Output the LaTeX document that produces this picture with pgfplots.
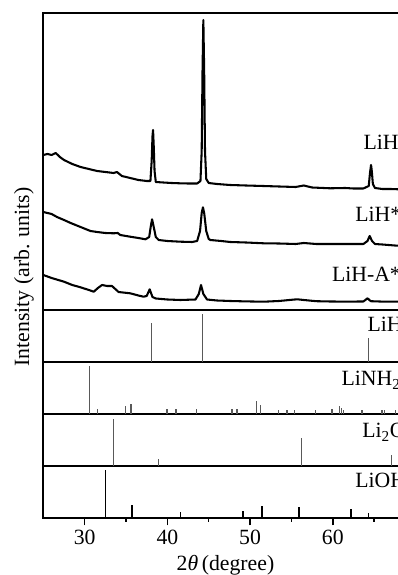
\documentclass[border=0pt]{standalone}
\usepackage{fontspec}
\setmainfont{Liberation Serif}
\usepackage{pgfplots}
\pgfplotsset{compat=1.18}
\pgfplotsset{
  panel/.style={scale only axis, width=279.1pt, height=39pt, xmin=25, xmax=70, ymin=0, ymax=52,
    axis line style={line width=1.5pt}, xtick=\empty, ytick=\empty, anchor=south west},
  refbar/.style={ycomb, mark=none, line width=0.85pt, color=black!65},
  trace/.style={mark=none, line width=1.55pt, black, line join=round},
}
\newcommand{\lbl}{\fontsize{16.3}{19}\selectfont}
\begin{document}
\begin{tikzpicture}
% LiOH
\begin{axis}[panel, at={(32.5pt,42.75pt)}, xtick={30,40,50,60,70}, minor x tick num=1,
  xtick pos=bottom, tick align=outside, major tick length=5.5pt, minor tick length=3pt,
  tick style={line width=1.1pt, black},
  xticklabel style={font=\lbl}, /pgf/number format/assume math mode=true]
\addplot[refbar, black] coordinates {(32.5,48) (35.73,13) (41.57,5.7) (49.15,7.3) (51.45,11.7) (55.92,10.7) (62.21,9) (64.27,4.7)};
\end{axis}
% Li2O
\begin{axis}[panel, at={(32.5pt,81.75pt)}]
\addplot[refbar] coordinates {(33.5,47) (38.95,6.7) (56.17,28) (67.05,11)};
\end{axis}
% LiNH2
\begin{axis}[panel, at={(32.5pt,120.75pt)}]
\addplot[refbar] coordinates {(30.57,48) (31.6,5) (34.92,7.6) (35.6,10) (39.96,5) (41.05,5) (43.47,5) (47.82,5) (48.42,5) (50.76,13.3) (51.24,9) (53.46,4) (54.47,4) (55.4,4) (57.9,4) (59.91,5) (60.83,8) (61.04,6) (61.32,4) (63.54,4) (65.96,4) (66.24,4) (67.57,4)};
\end{axis}
% LiH
\begin{axis}[panel, at={(32.5pt,159.75pt)}]
\addplot[refbar] coordinates {(38.07,39) (44.23,48) (64.34,24)};
\end{axis}
% Measured patterns
\begin{axis}[panel, at={(32.5pt,198.75pt)}, height=222.75pt, ymin=1, ymax=298]
\addplot[trace] coordinates {(25.0,156) (25.5,157) (26.0,156) (26.5,158) (27.0,154) (27.5,151) (28.5,147) (29.5,144) (30.5,142) (31.5,140) (32.5,139) (33.5,138) (33.9,139) (34.5,135) (35.5,133) (36.5,131) (37.5,130) (37.95,130) (38.1,150) (38.2,175) (38.27,181) (38.35,165) (38.45,140) (38.6,129) (39.5,128.5) (40.5,128) (41.5,127.7) (42.5,127.5) (43.6,127.5) (44.0,130) (44.15,160) (44.25,240) (44.35,291) (44.45,240) (44.55,160) (44.7,132) (45.0,128) (46,127) (47.6,126) (49.5,125.5) (51.6,125) (53.5,124.5) (55.5,124) (56.5,125.5) (57.5,123.5) (59.7,122.7) (61.5,123) (62.5,122.5) (63.7,122.5) (64.35,125) (64.5,138) (64.63,146) (64.72,140) (64.85,127) (65.1,123) (66,122) (67,122) (68,121.7) (70,121.5)};
\addplot[trace] coordinates {(25,99) (25.5,98) (26,97) (26.65,94) (27.5,91) (28.3,88) (29.5,84) (30.7,80) (31.5,79) (32.5,78) (33.5,77.7) (34.0,78) (34.3,76) (35.5,74.3) (36.5,73) (37.35,71.7) (37.8,74) (38.0,85) (38.15,91.7) (38.35,84) (38.6,74) (38.95,71) (40,70) (41.57,69.3) (43.0,69) (43.6,70) (43.95,80) (44.15,98) (44.3,103.7) (44.45,98) (44.7,80) (45.0,72) (45.2,71) (46.5,70) (47.6,69) (49.5,68.5) (51.65,67.7) (53.5,67.5) (55.5,67) (56.5,68) (58,67) (59.7,67) (61.5,67) (63.7,67) (64.2,70) (64.46,75) (64.75,70) (65.1,67) (66,66.5) (67.8,65.3) (70,65)};
\addplot[trace] coordinates {(25,36) (26,33) (27.5,29.3) (28.5,26) (29.5,23.7) (30.5,21) (31.1,19.3) (31.6,23) (32.1,26) (32.7,25) (33.3,25) (33.7,22) (34.1,19) (35.5,17.7) (36.5,15.5) (37.1,14.3) (37.5,15) (37.86,21.7) (38.2,14) (38.6,12.5) (40,11.5) (41.57,11) (43.4,11.5) (43.8,17) (44.07,26) (44.35,17) (44.8,11.5) (46,10.5) (47.6,10) (49.5,9.6) (51.65,9.3) (53.5,10) (55.0,11.2) (55.7,11.7) (56.5,11) (58,9.8) (59.7,9.5) (61.5,9.4) (63.7,9.5) (64.2,12.7) (64.6,9.8) (66,9.4) (67.8,9.3) (70,9.2)};
\end{axis}
% labels
\begin{scope}[every node/.style={inner sep=0pt, font=\lbl}]
\node[anchor=base west] at (272.5pt,319.3pt) {LiH};
\node[anchor=base west] at (266.25pt,265pt) {LiH*};
\node[anchor=base west] at (248.8pt,220pt) {LiH-A*};
\node[anchor=base west] at (275.5pt,182.5pt) {LiH};
\node[anchor=base west] at (256pt,141.75pt) {LiNH\textsubscript{2}};
\node[anchor=base west] at (271.5pt,102.75pt) {Li\textsubscript{2}O};
\node[anchor=base west] at (266.25pt,65.8pt) {LiOH};
\node[anchor=base] at (169.1pt,3.2pt) {2\textit{θ}\,(degree)};
\node[rotate=90] at (18pt,223.5pt) {Intensity (arb. units)};
\end{scope}
\pgfresetboundingbox
\useasboundingbox (0,0) rectangle (298.5pt,431.25pt);
\end{tikzpicture}
\end{document}
